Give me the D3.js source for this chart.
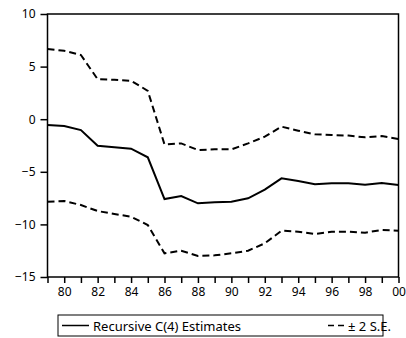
<!DOCTYPE html>
<html>
<head>
<meta charset="utf-8">
<script src="https://cdn.jsdelivr.net/npm/d3@7"></script>
<style>
  body { margin: 0; background: #fff; }
  svg text { font-family: "Noto Sans", sans-serif; font-size: 12px; fill: #000; }
</style>
</head>
<body>
<div id="chart"></div>
<script>
// years 1979..2000
const years = d3.range(1979, 2001);

const estimate = [-0.55, -0.65, -1.03, -2.52, -2.67, -2.8, -3.62, -7.59, -7.3, -8.0, -7.9,
  -7.84, -7.52, -6.7, -5.62, -5.87, -6.19, -6.1, -6.1, -6.22, -6.06, -6.25];

const upperBand = [6.67, 6.5, 6.1, 3.8, 3.75, 3.65, 2.7, -2.4, -2.3, -2.93, -2.86,
  -2.87, -2.3, -1.66, -0.71, -1.09, -1.44, -1.5, -1.56, -1.72, -1.6, -1.88];

const lowerBand = [-7.84, -7.78, -8.16, -8.73, -9.01, -9.27, -10.06, -12.75, -12.5, -13.0, -12.94,
  -12.75, -12.5, -11.8, -10.6, -10.69, -10.91, -10.7, -10.7, -10.79, -10.53, -10.6];

const yTicks = [10, 5, 0, -5, -10, -15];
const legendLabels = ['Recursive C(4) Estimates', '\u00b1 2 S.E.'];

const width = 406, height = 338;
const margin = { left: 47.5, right: 7.5, top: 14, bottom: 61 };

const svg = d3.select('#chart').append('svg')
  .attr('width', width)
  .attr('height', height);

const x = d3.scaleLinear()
  .domain([1979, 2000])
  .range([margin.left, width - margin.right]);

const y = d3.scaleLinear()
  .domain([-15, 10])
  .range([height - margin.bottom, margin.top]);

// frame
svg.append('rect')
  .attr('x', margin.left)
  .attr('y', margin.top)
  .attr('width', width - margin.right - margin.left)
  .attr('height', height - margin.bottom - margin.top)
  .attr('fill', 'none')
  .attr('stroke', '#000')
  .attr('stroke-width', 1.5);

const yAxis = svg.append('g')
  .attr('transform', 'translate(' + margin.left + ',0)')
  .call(d3.axisLeft(y).tickValues(yTicks).tickSize(7).tickPadding(5).tickFormat(d3.format('d')));
yAxis.select('.domain').remove();
yAxis.selectAll('line').attr('stroke-width', 1.5);
yAxis.selectAll('text').style('font-size', '12px').style('font-family', '"Noto Sans", sans-serif');

const xAxis = svg.append('g')
  .attr('transform', 'translate(0,' + (height - margin.bottom) + ')')
  .call(d3.axisBottom(x).tickValues(years).tickSize(6).tickPadding(4)
    .tickFormat(d => d % 2 === 0 ? String(d % 100).padStart(2, '0') : ''));
xAxis.select('.domain').remove();
xAxis.selectAll('line').attr('stroke-width', 1.5);
xAxis.selectAll('text').style('font-size', '12px').style('font-family', '"Noto Sans", sans-serif');

const line = d3.line()
  .x((d, i) => x(years[i]))
  .y(d => y(d));

svg.append('path')
  .datum(upperBand)
  .attr('d', line)
  .attr('fill', 'none')
  .attr('stroke', '#000')
  .attr('stroke-width', 2)
  .attr('stroke-dasharray', '7,4');

svg.append('path')
  .datum(lowerBand)
  .attr('d', line)
  .attr('fill', 'none')
  .attr('stroke', '#000')
  .attr('stroke-width', 2)
  .attr('stroke-dasharray', '7,4');

svg.append('path')
  .datum(estimate)
  .attr('d', line)
  .attr('fill', 'none')
  .attr('stroke', '#000')
  .attr('stroke-width', 2);

// legend
const legend = svg.append('g').attr('transform', 'translate(58,315)');
legend.append('rect')
  .attr('width', 325)
  .attr('height', 21)
  .attr('fill', 'none')
  .attr('stroke', '#000')
  .attr('stroke-width', 1);

legend.append('line')
  .attr('x1', 4).attr('x2', 31).attr('y1', 10.5).attr('y2', 10.5)
  .attr('stroke', '#000').attr('stroke-width', 1.5);
legend.append('text')
  .attr('x', 35).attr('y', 15.5)
  .style('font-size', '13px')
  .text(legendLabels[0]);

legend.append('line')
  .attr('x1', 270).attr('x2', 286).attr('y1', 10.5).attr('y2', 10.5)
  .attr('stroke', '#000').attr('stroke-width', 1.5)
  .attr('stroke-dasharray', '6,4');
legend.append('text')
  .attr('x', 290).attr('y', 15.5)
  .style('font-size', '13px')
  .text(legendLabels[1]);
</script>
</body>
</html>
